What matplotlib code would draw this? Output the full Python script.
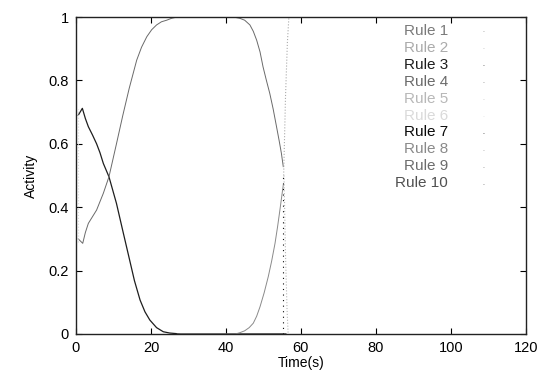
import matplotlib
matplotlib.use("Agg")
import matplotlib.pyplot as plt

plt.rcParams['font.family'] = ['Liberation Sans', 'DejaVu Sans']

# rule names and their grey levels (as in the legend)
rules = ['Rule 1', 'Rule 2', 'Rule 3', 'Rule 4', 'Rule 5',
         'Rule 6', 'Rule 7', 'Rule 8', 'Rule 9', 'Rule 10']
greys = ['#7a7a7a', '#ababab', '#1e1e1e', '#6a6a6a', '#b8b8b8',
         '#dadada', '#0a0a0a', '#8a8a8a', '#6c6c6c', '#505050']

# Rule 3 : dark curve, falls to zero by ~28 s
t3 = [0.6, 1.7, 2.5, 3.3, 4.4, 5.5, 6.4, 7.3, 8.8, 10.8, 12.5, 14.2, 15.6, 17.1,
      18.4, 19.7, 21.5, 23.3, 25.0, 27.9, 56.0]
a3 = [0.69, 0.712, 0.68, 0.654, 0.628, 0.60, 0.572, 0.538, 0.496, 0.412, 0.325, 0.239,
      0.168, 0.107, 0.07, 0.044, 0.02, 0.007, 0.003, 0.0, 0.0]

# Rule 4 : grey curve, rises to one, falls again near 55 s
t4 = [0.6, 1.8, 2.5, 3.3, 4.4, 5.5, 7.3, 8.8, 10.8, 12.5, 14.2, 16.2, 17.5, 18.9,
      20.2, 21.5, 22.8, 24.2, 25.5, 27.0, 42.0, 43.7, 45.0, 46.4, 47.3, 48.2, 49.1,
      49.9, 50.8, 51.7, 52.6, 53.5, 54.2, 54.8, 55.3]
a4 = [0.30, 0.286, 0.32, 0.349, 0.37, 0.391, 0.444, 0.496, 0.60, 0.69, 0.775, 0.864,
      0.905, 0.938, 0.96, 0.975, 0.985, 0.99, 0.996, 1.0, 1.0, 0.996, 0.99, 0.975,
      0.955, 0.927, 0.89, 0.843, 0.80, 0.759, 0.71, 0.654, 0.61, 0.57, 0.528]

# Rule 8 : rises from zero after ~43 s
t8 = [27.0, 42.5, 43.7, 45.0, 46.2, 47.3, 48.2, 49.1, 50.2, 51.3, 52.2, 53.1,
      53.8, 54.4, 55.3]
a8 = [0.0, 0.0, 0.004, 0.01, 0.02, 0.034, 0.056, 0.086, 0.13, 0.181, 0.23, 0.286,
      0.34, 0.391, 0.47]

# Rule 2 : steep jump to one
t2 = [55.4, 55.9, 56.4, 56.8]
a2 = [0.5, 0.75, 0.92, 1.0]

# Rule 5 : steep drop to zero
t5 = [55.5, 55.9, 56.3, 56.6]
a5 = [0.5, 0.25, 0.08, 0.0]

# Rule 7 : vertical jump at ~55.3 s
t7 = [55.3, 55.3]
a7 = [0.0, 0.5]

# Rule 6 : faint start jump
t6 = [0.6, 0.6]
a6 = [0.29, 0.71]

fig = plt.figure(figsize=(5.4, 3.87), dpi=100)
ax = fig.add_axes([0.1407, 0.137, 0.833, 0.819])

ax.plot(t3, a3, color=greys[2], lw=0.9)
ax.plot(t4, a4, color=greys[3], lw=0.7)
ax.plot(t8, a8, color=greys[7], lw=0.7)
ax.plot(t2, a2, color=greys[1], lw=0.8, ls=':')
ax.plot(t5, a5, color=greys[4], lw=0.8, ls=':')
ax.plot(t7, a7, color=greys[6], lw=0.8, ls=(0, (1, 4)))
ax.plot(t6, a6, color=greys[5], lw=0.8, ls=':')

ax.set_xlim(0, 120)
ax.set_ylim(0, 1)
ax.set_xticks([0, 20, 40, 60, 80, 100, 120])
ax.set_yticks([0, 0.2, 0.4, 0.6, 0.8, 1])
ax.set_yticklabels(['0', '0.2', '0.4', '0.6', '0.8', '1'])
ax.tick_params(direction='in', length=4, width=0.8, top=True, right=True,
               labelsize=10.5, pad=5)
for s in ax.spines.values():
    s.set_linewidth(1.0)
    s.set_color('#222222')

ax.set_xlabel('Time(s)', fontsize=10, labelpad=1)
ax.set_ylabel('Activity', fontsize=10, labelpad=8)

# legend, gnuplot-like: right-aligned names with a dot sample
for i, (name, c) in enumerate(zip(rules, greys)):
    y = 1 - (31 + i * 16.9) / 387
    fig.text(448 / 540, y, name, ha='right', va='center', color=c, fontsize=11)
    fig.text(483 / 540, y, '.', ha='center', va='center', color=c, fontsize=5)

fig.savefig('out.png', dpi=100)
